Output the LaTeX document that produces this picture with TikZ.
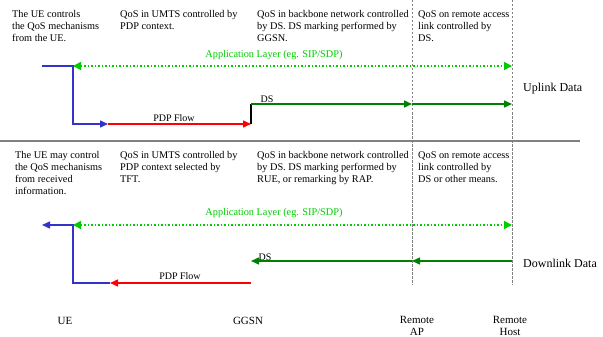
\documentclass[tikz,border=0pt]{standalone}
\usepackage{fontspec}
\setmainfont{Liberation Serif}
\usepackage{tikz}
\usetikzlibrary{positioning,calc,arrows.meta}
\usepackage{xcolor}

\definecolor{appgreen}{RGB}{0,204,0}
\definecolor{dsgreen}{RGB}{0,128,0}
\definecolor{ueblue}{RGB}{51,51,204}
\definecolor{pdpred}{RGB}{255,0,0}

\tikzset{
  tip/.style={-{Triangle[length=8pt,width=7pt]}},
  apptext/.style={font=\rmfamily\fontsize{10.3}{12}\selectfont,text=appgreen,inner sep=0pt},
  qostext/.style={font=\rmfamily\fontsize{10.3}{12.2}\selectfont,align=left,anchor=north west,inner sep=0pt},
  flowtext/.style={font=\rmfamily\fontsize{10}{12}\selectfont,inner sep=0pt},
  datatext/.style={font=\rmfamily\fontsize{12}{14}\selectfont,inner sep=0pt,anchor=west},
  elemtext/.style={font=\rmfamily\fontsize{11}{12.5}\selectfont,inner sep=0pt,align=center},
  apparrow/.style={appgreen,line width=1.5pt,dotted,{Triangle[length=8pt,width=8pt]}-{Triangle[length=8pt,width=8pt]}},
  uearrow/.style={ueblue,line width=1.4pt},
  pdparrow/.style={pdpred,line width=1.4pt},
  dsarrow/.style={dsgreen,line width=1.4pt}
}

\begin{document}
\begin{tikzpicture}[x=1pt,y=-1pt]
\useasboundingbox (0,0) rectangle (603,337);

% Columns: UE, GGSN, remote AP, remote host.
\def\xue{73}
\def\xgg{251}
\def\xap{412}
\def\xrh{512}

% Separator between uplink and downlink.
\draw[gray,line width=2pt] (0,141) -- (580,141);

% Access point and host boundaries.
\draw[gray,line width=1pt,dash pattern=on 2.5pt off 1.5pt] (\xap,0) -- (\xap,285);
\draw[gray,line width=1pt,dash pattern=on 2.5pt off 1.5pt] (\xrh,0) -- (\xrh,285);

% Uplink descriptions.
\node[qostext] (upue) at (12,10) {The UE controls\\the QoS mechanisms\\from the UE.};
\node[qostext] (upumts) at (120,10) {QoS in UMTS controlled by\\PDP context.};
\node[qostext] (upbb) at (257,10) {QoS in backbone network controlled\\by DS. DS marking performed by\\GGSN.};
\node[qostext] (upra) at (418,10) {QoS on remote access\\link controlled by\\DS.};

% Uplink flows.
\coordinate (ulin) at (42,66);
\coordinate (ulapp) at (\xue,66);
\coordinate (ulhost) at (\xrh,66);
\coordinate (ulcorner) at (\xue,124);
\coordinate (ulpdp) at (108,124);
\coordinate (ulgg) at (\xgg,124);
\coordinate (ulds) at (\xgg,104);
\coordinate (ulap) at (\xap,104);
\coordinate (ulrh) at (\xrh,104);

\draw[apparrow] (ulapp) -- (ulhost);
\node[apptext] (ulapplabel) at (274,55) {Application Layer (eg. SIP/SDP)};

\draw[uearrow,tip] (ulin) -- (ulapp) -- (ulcorner) -- (ulpdp);
\draw[pdparrow,tip] (ulpdp) -- (ulgg);
\node[flowtext] (ulpdplabel) at (174,118) {PDP Flow};
\draw[black,line width=1.4pt] (ulgg) -- (ulds);
\draw[dsarrow,tip] (ulds) -- (ulap);
\draw[dsarrow,tip] (ulap) -- (ulrh);
\node[flowtext] (uldslabel) at (267,99) {DS};
\node[datatext] (ullabel) at (523,89) {Uplink Data};

% Downlink descriptions.
\node[qostext] (dnue) at (15,151) {The UE may control\\the QoS mechanisms\\from received\\information.};
\node[qostext] (dnumts) at (120,151) {QoS in UMTS controlled by\\PDP context selected by\\TFT.};
\node[qostext] (dnbb) at (257,151) {QoS in backbone network controlled\\by DS. DS marking performed by\\RUE, or remarking by RAP.};
\node[qostext] (dnra) at (418,151) {QoS on remote access\\link controlled by\\DS or other means.};

% Downlink flows.
\coordinate (dlout) at (42,225);
\coordinate (dlapp) at (\xue,225);
\coordinate (dlhost) at (\xrh,225);
\coordinate (dlcorner) at (\xue,283);
\coordinate (dlpdp) at (110,283);
\coordinate (dlgg) at (\xgg,283);
\coordinate (dlds) at (\xgg,261);
\coordinate (dlap) at (\xap,261);
\coordinate (dlrh) at (\xrh,261);

\draw[apparrow] (dlapp) -- (dlhost);
\node[apptext] (dlapplabel) at (274,213) {Application Layer (eg. SIP/SDP)};

\draw[dsarrow,tip] (dlrh) -- (dlap);
\draw[dsarrow,tip] (dlap) -- (dlds);
\node[flowtext] (dldslabel) at (265,257) {DS};
\draw[pdparrow,tip] (dlgg) -- (dlpdp);
\draw[uearrow,tip] (dlpdp) -- (dlcorner) -- (dlapp) -- (dlout);
\node[flowtext] (dlpdplabel) at (180,276) {PDP Flow};
\node[datatext] (dllabel) at (523,263) {Downlink Data};

% Network elements.
\node[elemtext] (ue) at (65,321) {UE};
\node[elemtext] (ggsn) at (248,321) {GGSN};
\node[elemtext,anchor=north] (rap) at (417,316) {Remote\\AP};
\node[elemtext,anchor=north] (rhost) at (510,316) {Remote\\Host};

\end{tikzpicture}
\end{document}
